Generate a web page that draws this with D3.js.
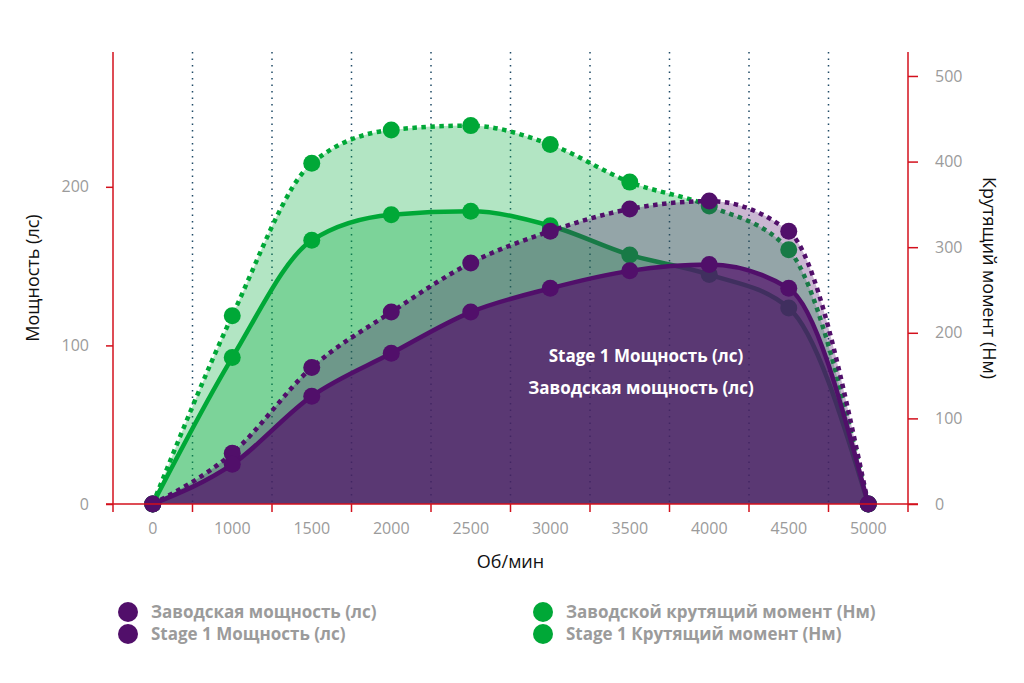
<!DOCTYPE html>
<html>
<head>
<meta charset="utf-8">
<script src="https://cdn.jsdelivr.net/npm/d3@7"></script>
<style>
  body { margin: 0; background: #fff; }
  text { font-family: "Open Sans", Lato, sans-serif; }
</style>
</head>
<body>
<div id="chart"></div>
<script>
// обороты
const rpm = ["0", "1000", "1500", "2000", "2500", "3000", "3500", "4000", "4500", "5000"];
// мощность (лс)
const powerStock = [0, 25, 68, 95, 121, 136, 147, 151, 136, 0];
const powerStage1 = [0, 32, 86, 121, 152, 172, 186, 191, 172, 0];
// крутящий момент (Нм)
const torqueStock = [0, 171, 308, 338, 342, 325, 291, 268, 229, 0];
const torqueStage1 = [0, 220, 398, 437, 442, 420, 376, 348, 297, 0];

const powerTicks = [0, 100, 200];
const torqueTicks = [0, 100, 200, 300, 400, 500];

const PURPLE = "rgb(81,15,106)";
const GREEN = "rgb(0,168,55)";
const RED = "#d3101c";

const width = 1024, height = 683;
const plotLeft = 113, plotRight = 908, plotTop = 52, plotBottom = 504;

const svg = d3.select("#chart").append("svg")
    .attr("width", width)
    .attr("height", height);

const x = d3.scaleBand().domain(rpm).range([plotLeft, plotRight]).padding(0);
const cx = (d) => x(d) + x.bandwidth() / 2;
const yPower = d3.scaleLinear().domain([0, 285]).range([plotBottom, plotTop]);
const yTorque = d3.scaleLinear().domain([0, 528]).range([plotBottom, plotTop]);

//Grille verticale pointillée
svg.append("g")
    .selectAll("line")
    .data(rpm.slice(1))
    .join("line")
    .attr("x1", (d) => x(d))
    .attr("x2", (d) => x(d))
    .attr("y1", plotTop)
    .attr("y2", plotBottom)
    .attr("stroke", "#1f4a66")
    .attr("stroke-width", 1.5)
    .attr("stroke-dasharray", "1.5 5");

// séries: d'abord le couple (vert), puis la puissance (violet)
const series = [
    { values: torqueStage1, y: yTorque, color: GREEN, fill: 0.3, dashed: true },
    { values: torqueStock, y: yTorque, color: GREEN, fill: 0.3, dashed: false },
    { values: powerStage1, y: yPower, color: PURPLE, fill: 0.3, dashed: true },
    { values: powerStock, y: yPower, color: PURPLE, fill: 0.7, dashed: false },
];

series.forEach((s) => {
    const pts = s.values.map((v, i) => [cx(rpm[i]), s.y(v)]);
    const g = svg.append("g");

    g.append("path")
        .attr("d", d3.area().x((d) => d[0]).y0(plotBottom).y1((d) => d[1]).curve(d3.curveMonotoneX)(pts))
        .attr("fill", s.color)
        .attr("fill-opacity", s.fill);

    g.append("path")
        .attr("d", d3.line().curve(d3.curveMonotoneX)(pts))
        .attr("fill", "none")
        .attr("stroke", s.color)
        .attr("stroke-width", 4.5)
        .attr("stroke-dasharray", s.dashed ? "4.5 4.5" : null);

    g.selectAll("circle")
        .data(pts)
        .join("circle")
        .attr("cx", (d) => d[0])
        .attr("cy", (d) => d[1])
        .attr("r", 8.5)
        .attr("fill", s.color);
});

//Axes
const axisLines = svg.append("g").attr("stroke", RED).attr("stroke-width", 1.5);
axisLines.append("line").attr("x1", plotLeft - 7).attr("x2", plotRight + 10).attr("y1", plotBottom).attr("y2", plotBottom);
axisLines.append("line").attr("x1", plotLeft).attr("x2", plotLeft).attr("y1", plotTop).attr("y2", plotBottom + 8);
axisLines.append("line").attr("x1", plotRight).attr("x2", plotRight).attr("y1", plotTop).attr("y2", plotBottom + 8);
axisLines.selectAll(".xt")
    .data(rpm.slice(1))
    .join("line")
    .attr("class", "xt")
    .attr("x1", (d) => x(d))
    .attr("x2", (d) => x(d))
    .attr("y1", plotBottom)
    .attr("y2", plotBottom + 8);

const styleAxis = (g) => {
    g.select(".domain").remove();
    g.selectAll(".tick line").attr("stroke", RED).attr("stroke-width", 1.5);
    g.selectAll(".tick text")
        .attr("fill", "#9b9b9b")
        .attr("font-size", 16)
        .attr("font-family", "Lato, sans-serif");
};

svg.append("g")
    .attr("transform", `translate(0,${plotBottom})`)
    .call(d3.axisBottom(x).tickSize(0).tickPadding(19))
    .call(styleAxis);

svg.append("g")
    .attr("transform", `translate(${plotLeft},0)`)
    .call(d3.axisLeft(yPower).tickValues(powerTicks).tickSize(7).tickPadding(17))
    .call(styleAxis);

svg.append("g")
    .attr("transform", `translate(${plotRight},0)`)
    .call(d3.axisRight(yTorque).tickValues(torqueTicks).tickSize(10).tickPadding(17))
    .call(styleAxis);

//Titres des axes
svg.append("text")
    .attr("transform", `translate(39,${(plotTop + plotBottom) / 2}) rotate(-90)`)
    .attr("text-anchor", "middle")
    .attr("font-size", 18)
    .attr("fill", "#111")
    .text("Мощность (лс)");

svg.append("text")
    .attr("transform", `translate(983,${(plotTop + plotBottom) / 2}) rotate(90)`)
    .attr("text-anchor", "middle")
    .attr("font-size", 18)
    .attr("fill", "#111")
    .text("Крутящий момент (Нм)");

svg.append("text")
    .attr("x", (plotLeft + plotRight) / 2)
    .attr("y", 568)
    .attr("text-anchor", "middle")
    .attr("font-size", 18)
    .attr("fill", "#111")
    .text("Об/мин");

//Étiquettes dans le graphe
svg.append("text")
    .attr("x", 646).attr("y", 362)
    .attr("text-anchor", "middle")
    .attr("font-size", 17).attr("font-weight", "bold")
    .attr("fill", "#fff")
    .text("Stage 1 Мощность (лс)");

svg.append("text")
    .attr("x", 641).attr("y", 394)
    .attr("text-anchor", "middle")
    .attr("font-size", 17).attr("font-weight", "bold")
    .attr("fill", "#fff")
    .text("Заводская мощность (лс)");

//Légende
const legendItems = [
    { label: "Заводская мощность (лс)", color: PURPLE, x: 128, y: 612 },
    { label: "Stage 1 Мощность (лс)", color: PURPLE, x: 128, y: 634 },
    { label: "Заводской крутящий момент (Нм)", color: GREEN, x: 543, y: 612 },
    { label: "Stage 1 Крутящий момент (Нм)", color: GREEN, x: 543, y: 634 },
];

const legend = svg.append("g")
    .selectAll("g")
    .data(legendItems)
    .join("g")
    .attr("transform", (d) => `translate(${d.x},${d.y})`);

legend.append("circle").attr("r", 10).attr("fill", (d) => d.color);
legend.append("text")
    .attr("x", 23)
    .attr("y", 6)
    .attr("font-size", 17)
    .attr("font-weight", "bold")
    .attr("fill", "#9b9b9b")
    .text((d) => d.label);
</script>
</body>
</html>
